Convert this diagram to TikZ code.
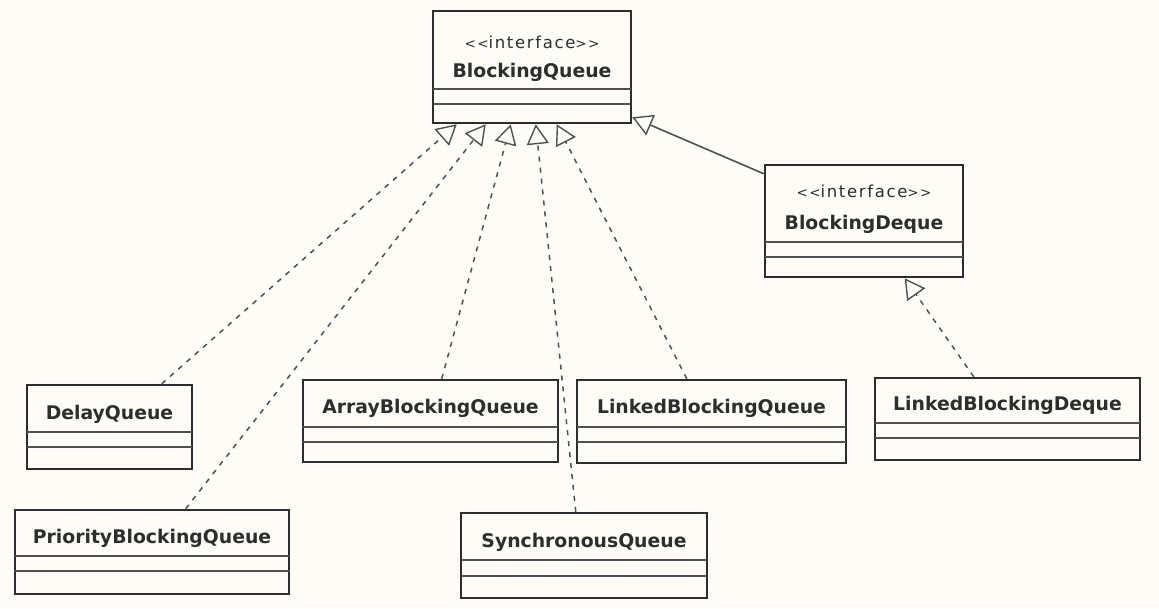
\documentclass[tikz,border=0pt]{standalone}
\usepackage{fontspec}
\setmainfont{DejaVu Sans}
\usetikzlibrary{arrows.meta}
\definecolor{paper}{RGB}{253,252,247}
\definecolor{ink}{RGB}{45,45,45}
\definecolor{lineink}{RGB}{80,80,80}
\newcommand\umlbox[7]{%
  \node[classbox, minimum width={#4-#2}, minimum height={#5-#3}] (#1) at ({(#2+#4)/2},{(#3+#5)/2}) {};
  \draw[divider] (#2,#6) -- (#4,#6);
  \draw[divider] (#2,#7) -- (#4,#7);
}
\newcommand\chev[1]{{\fontsize{13.5}{14}\selectfont#1{}#1}}
\begin{document}
\begin{tikzpicture}[x=1pt,y=-1pt,
  classbox/.style={draw=ink, line width=2.5pt, inner sep=0pt, fill=none},
  divider/.style={draw=lineink, line width=1.5pt},
  clsname/.style={font=\fontsize{18.8}{19}\selectfont\bfseries, text=ink, anchor=base, inner sep=0pt},
  stereo/.style={font=\fontsize{16.5}{17}\selectfont\addfontfeature{LetterSpace=10}, text=ink, anchor=base, inner sep=0pt},
  gentip/.style={-{Triangle[open, length=20pt, width=22pt, line width=1.4pt]}},
  realize/.style={draw=lineink, line width=1.5pt, dash pattern=on 5pt off 6pt, gentip},
  generalize/.style={draw=lineink, line width=1.6pt, gentip}]
\useasboundingbox (0,0) rectangle (1159,608);
\fill[paper] (0,0) rectangle (1159,608);

% boxes
\umlbox{bq}{433}{11}{631}{123}{89}{104}
\umlbox{bd}{765}{165}{963}{277}{242}{257}
\umlbox{dq}{27}{385}{192}{469}{432}{447}
\umlbox{pq}{15}{510}{289}{594}{556}{571}
\umlbox{aq}{303}{380}{558}{462}{427}{442}
\umlbox{lq}{577}{380}{846}{463}{427}{442}
\umlbox{lbd}{875}{378}{1140}{460}{423}{438}
\umlbox{sq}{461}{513}{707}{598}{560}{576}

% texts
\node[stereo] (bqs) at (532,48) {\chev{<}interface\chev{>}};
\node[clsname] (bqn) at (532,77) {BlockingQueue};
\node[stereo] (bds) at (864,197) {\chev{<}interface\chev{>}};
\node[clsname] (bdn) at (864,229) {BlockingDeque};
\node[clsname] (dqn) at (109.5,419) {DelayQueue};
\node[clsname] (pqn) at (152,543) {PriorityBlockingQueue};
\node[clsname] (aqn) at (430.5,413) {ArrayBlockingQueue};
\node[clsname] (lqn) at (711.5,413) {LinkedBlockingQueue};
\node[clsname] (lbdn) at (1007.5,410) {LinkedBlockingDeque};
\node[clsname] (sqn) at (584,547) {SynchronousQueue};

% connectors
\draw[realize] ([xshift=136pt]dq.north west) -- ([xshift=25pt]bq.south west);
\draw[realize] ([xshift=172pt]pq.north west) -- ([xshift=54pt]bq.south west);
\draw[realize] ([xshift=140pt]aq.north west) -- ([xshift=79pt]bq.south west);
\draw[realize] ([xshift=116pt]sq.north west) -- ([xshift=104pt]bq.south west);
\draw[realize] ([xshift=111pt]lq.north west) -- ([xshift=125pt]bq.south west);
\draw[realize] ([xshift=100pt]lbd.north west) -- ([xshift=141pt]bd.south west);
\draw[generalize] ([yshift=-10pt]bd.north west) -- ([yshift=7pt]bq.south east);
\end{tikzpicture}
\end{document}
